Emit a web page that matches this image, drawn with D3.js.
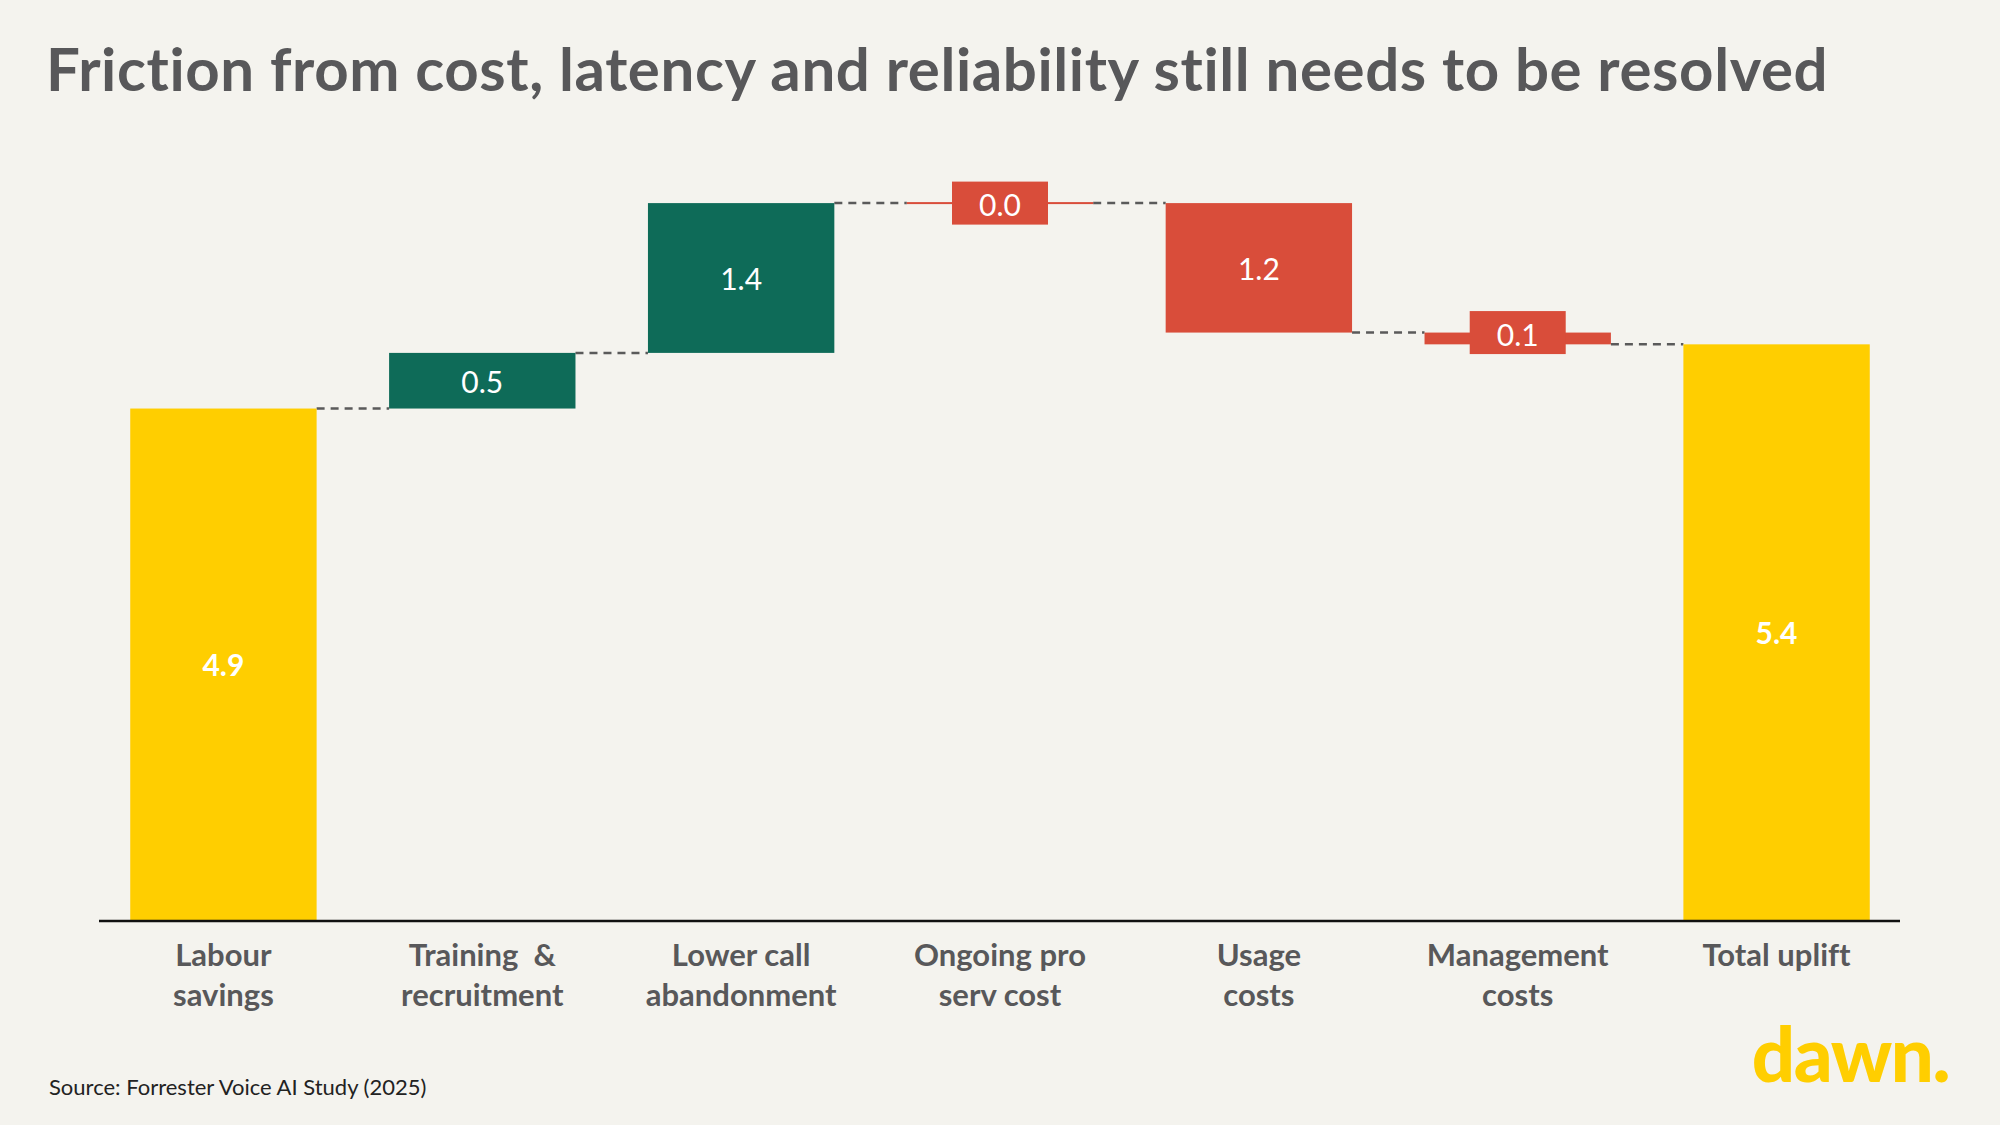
<!DOCTYPE html>
<meta charset="utf-8">
<style>
    body {
        margin: 0;
        background-color: #f4f3ee;
    }

    text {
        font-family: Lato, "Open Sans", sans-serif;
        font-variant-ligatures: none;
    }

    .cat-label {
        font-size: 31px;
        font-weight: 700;
        fill: #58585a;
        white-space: pre;
    }

    .value-label {
        font-size: 30px;
        fill: #ffffff;
    }
</style>

<body>
    <script src="https://d3js.org/d3.v7.min.js"></script>

    <script>
        var width = 2000,
            height = 1125;

        // categories, one entry per bar (two lines each under the axis)
        const categories = [
            ["Labour", "savings"],
            ["Training  &", "recruitment"],
            ["Lower call", "abandonment"],
            ["Ongoing pro", "serv cost"],
            ["Usage", "costs"],
            ["Management", "costs"],
            ["Total uplift"]
        ];

        // step sizes as drawn in the picture (the last bar is the running total)
        const steps = [4.78, 0.52, 1.40, 0.00, -1.21, -0.11];

        // labels printed on the bars
        const valueLabels = ["4.9", "0.5", "1.4", "0.0", "1.2", "0.1", "5.4"];

        const yellow = "#ffce00",
            green = "#0e6b58",
            red = "#d94d3a";

        // build the waterfall
        var bars = [];
        var running = 0;
        steps.forEach(function (s, i) {
            var start = running;
            running = running + s;
            bars.push({
                key: categories[i].join(" "),
                start: i == 0 ? 0 : start,
                end: running,
                type: i == 0 ? "total" : (s > 0 ? "up" : "down"),
                label: valueLabels[i]
            });
        });
        bars.push({
            key: categories[6].join(" "),
            start: 0,
            end: running,
            type: "total",
            label: valueLabels[6]
        });

        var svg = d3.select("body").append("svg")
            .attr("width", width)
            .attr("height", height);

        var x = d3.scaleBand()
            .domain(bars.map(d => d.key))
            .range([94, 1906])
            .paddingInner(0.28)
            .paddingOuter(0.14);

        var y = d3.scaleLinear()
            .domain([0, 7.5])
            .range([920, 117.5]);

        function barColor(d) {
            if (d.type == "total") return yellow;
            if (d.type == "up") return green;
            return red;
        }

        // title
        svg.append("text")
            .attr("x", 46)
            .attr("y", 91)
            .attr("fill", "#58585a")
            .style("font-size", "60px")
            .style("font-weight", 700)
            .style("letter-spacing", "0.6px")
            .text("Friction from cost, latency and reliability still needs to be resolved");

        // dashed connectors
        var g = svg.append("g");
        g.selectAll("line.connector")
            .data(bars.slice(0, -1))
            .enter().append("line")
            .attr("class", "connector")
            .attr("x1", d => x(d.key) + x.bandwidth())
            .attr("x2", (d, i) => x(bars[i + 1].key))
            .attr("y1", d => y(d.end))
            .attr("y2", d => y(d.end))
            .attr("stroke", "#5a5a5a")
            .attr("stroke-width", 2.5)
            .attr("stroke-dasharray", "8,6");

        // bars
        g.selectAll("rect.bar")
            .data(bars)
            .enter().append("rect")
            .attr("class", "bar")
            .attr("x", d => x(d.key))
            .attr("width", x.bandwidth())
            .attr("y", d => Math.min(y(d.start), y(d.end)) - (d.start == d.end ? 1 : 0))
            .attr("height", d => Math.max(2, Math.abs(y(d.start) - y(d.end))))
            .attr("fill", barColor);

        // small steps get a label box instead of an inside label
        var isSmall = d => d.type != "total" && Math.abs(d.end - d.start) < 0.3;

        g.selectAll("rect.label-box")
            .data(bars.filter(isSmall))
            .enter().append("rect")
            .attr("class", "label-box")
            .attr("x", d => x(d.key) + x.bandwidth() / 2 - 48)
            .attr("y", d => y(d.start) - 21.5)
            .attr("width", 96)
            .attr("height", 43)
            .attr("fill", red);

        g.selectAll("text.value-label")
            .data(bars)
            .enter().append("text")
            .attr("class", "value-label")
            .attr("x", d => x(d.key) + x.bandwidth() / 2)
            .attr("y", function (d) {
                if (isSmall(d)) return y(d.start) + 1;
                return (y(d.start) + y(d.end)) / 2;
            })
            .attr("text-anchor", "middle")
            .attr("dominant-baseline", "central")
            .style("font-weight", d => d.type == "total" ? 700 : 400)
            .text(d => d.label);

        // baseline
        svg.append("line")
            .attr("x1", 99)
            .attr("x2", 1900)
            .attr("y1", y(0) + 1)
            .attr("y2", y(0) + 1)
            .attr("stroke", "#111")
            .attr("stroke-width", 2.5);

        // category labels
        var cat = svg.selectAll("text.cat-label")
            .data(bars)
            .enter().append("text")
            .attr("class", "cat-label")
            .attr("text-anchor", "middle")
            .attr("x", d => x(d.key) + x.bandwidth() / 2)
            .attr("y", 966);

        cat.each(function (d, i) {
            var t = d3.select(this);
            categories[i].forEach(function (line, j) {
                t.append("tspan")
                    .attr("x", x(d.key) + x.bandwidth() / 2)
                    .attr("dy", j == 0 ? 0 : 40)
                    .text(line);
            });
        });

        // source
        svg.append("text")
            .attr("x", 49)
            .attr("y", 1095)
            .attr("fill", "#222")
            .style("font-size", "22px")
            .text("Source: Forrester Voice AI Study (2025)");

        // logo
        svg.append("text")
            .attr("x", 1949)
            .attr("y", 1082)
            .attr("text-anchor", "end")
            .attr("fill", yellow)
            .style("font-size", "76px")
            .style("font-weight", 900)
            .style("letter-spacing", "-1.5px")
            .text("dawn.");
    </script>
</body>

</html>
